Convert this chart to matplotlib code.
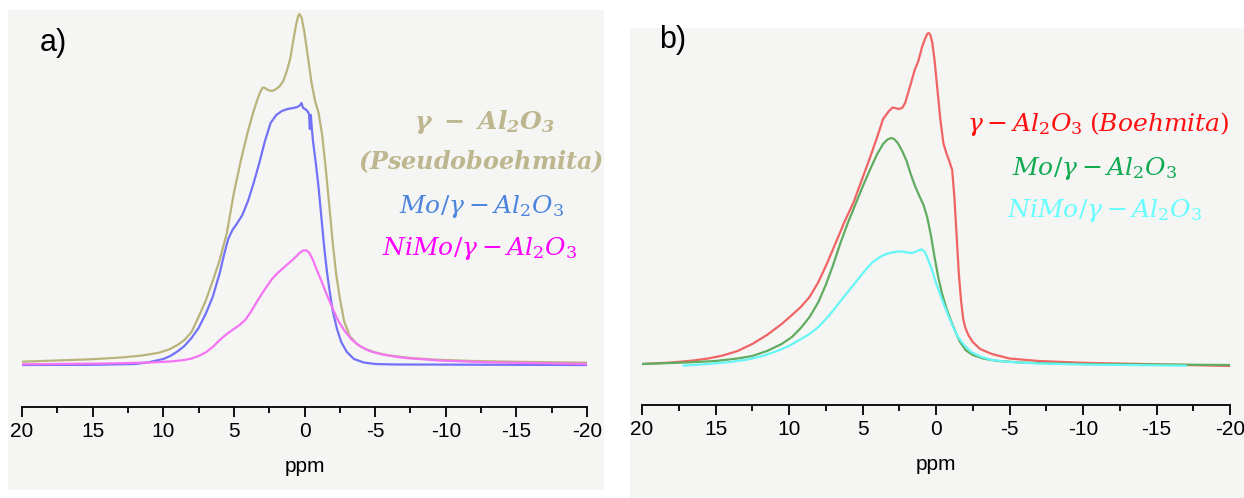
import matplotlib
matplotlib.use("Agg")
import matplotlib.pyplot as plt
from matplotlib.patches import Rectangle
from matplotlib.ticker import MultipleLocator

plt.rcParams["font.family"] = ["Liberation Sans", "DejaVu Sans"]
plt.rcParams["mathtext.fontset"] = "dejavuserif"

# ---- Panel a: 27Al NMR, pseudoboehmite-derived supports ----
a_gamma_ppm = [20, 17, 15, 13, 11.5, 10.3, 9.6, 9.0, 8.5, 8.0, 7.5, 7.0, 6.5, 6.0, 5.5, 5.0,
               4.5, 4.0, 3.6, 3.3, 3.1, 2.95, 2.8, 2.6, 2.3, 2.0, 1.75, 1.5, 1.25, 1.0, 0.8,
               0.6, 0.45, 0.35, 0.2, 0.0, -0.25, -0.5, -0.75, -1.0, -1.25, -1.5, -1.75, -2.0,
               -2.25, -2.5, -2.8, -3.2, -3.7, -4.3, -5, -6, -7.5, -9.5, -12, -15, -20]
a_gamma_int = [1.3, 2.8, 3.8, 5.5, 7.5, 10.3, 13.5, 18, 23, 31, 46, 62, 82, 103, 130, 170,
               203, 232, 252, 265, 272, 275.5, 275, 273, 272, 274, 277, 282, 292, 305, 322,
               338, 347, 349, 345, 330, 305, 280, 262, 250, 228, 195, 158, 120, 88, 65, 42,
               27, 19, 14, 10.5, 7.5, 5, 3.2, 2, 1.2, 0.3]

a_mo_ppm = [20, 15, 12, 11, 10, 9.5, 9.0, 8.5, 8.0, 7.5, 7.0, 6.5, 6.0, 5.7, 5.4, 5.1, 4.8,
            4.4, 4.0, 3.6, 3.2, 2.8, 2.4, 2.0, 1.6, 1.2, 0.8, 0.5, 0.3, 0.22, 0.1, -0.05,
            -0.2, -0.32, -0.38, -0.45, -0.5, -0.6, -0.8, -1.0, -1.2, -1.4, -1.6, -1.8, -2.0,
            -2.3, -2.6, -3.0, -3.5, -4.2, -5.0, -6.5, -20]
a_mo_int = [-2, -1.8, -1, 0.8, 4, 7, 11.5, 17, 25, 35, 49, 66, 90, 108, 124, 133, 139, 148,
            162, 180, 200, 222, 240, 248, 252, 254, 255, 256, 258, 260, 255, 254, 252, 249,
            234, 248, 238, 222, 200, 175, 145, 115, 90, 70, 52, 34, 21, 11, 4, 0.5, -1, -1.5,
            -2]

a_nimo_ppm = [20, 14, 11, 9.5, 8.5, 8.0, 7.5, 7.0, 6.5, 6.0, 5.5, 5.0, 4.6, 4.2, 3.8, 3.3,
              2.8, 2.3, 1.9, 1.5, 1.1, 0.7, 0.35, 0.1, -0.15, -0.35, -0.6, -0.9, -1.2, -1.5,
              -1.8, -2.1, -2.4, -2.8, -3.3, -3.9, -4.6, -5.5, -7, -9.5, -13, -20]
a_nimo_int = [-1.3, -0.5, 0.5, 1.5, 3, 4.5, 7, 10.5, 16, 23, 29, 34, 38, 43, 51, 63, 74, 84,
              90, 95, 100, 105, 110, 112.5, 112.5, 110, 103, 92, 82, 71, 61, 51, 42, 33, 24,
              17, 12, 8.5, 5.2, 2.5, 0.7, -1]

# ---- Panel b: 27Al NMR, boehmite-derived supports ----
b_gamma_ppm = [20, 18, 16.5, 15.5, 14.5, 13.5, 12.5, 11.5, 10.5, 9.8, 9.2, 8.6, 8.0, 7.4,
               6.8, 6.2, 5.6, 5.0, 4.5, 4.0, 3.6, 3.2, 2.95, 2.8, 2.55, 2.3, 2.1, 1.9, 1.7,
               1.45, 1.2, 0.95, 0.75, 0.6, 0.5, 0.38, 0.25, 0.1, -0.1, -0.3, -0.5, -0.7,
               -0.9, -1.1, -1.25, -1.4, -1.55, -1.7, -1.85, -2.0, -2.2, -2.5, -3.0, -3.8, -5,
               -7, -10, -14, -20]
b_gamma_int = [1, 2.5, 4.5, 6.5, 9.5, 14, 21, 30, 41, 50, 58, 68, 83, 102, 123, 144, 163,
               187, 207, 228, 246, 254, 257.5, 257, 256, 257, 262, 272, 282, 295, 304, 318,
               326, 331, 332, 330, 322, 305, 275, 245, 222, 212, 204, 195, 168, 130, 92, 65,
               46, 37, 30, 23, 16, 11, 6.5, 4, 2.2, 1, -1]

b_mo_ppm = [20, 17, 15, 13.5, 12.5, 11.5, 10.5, 9.8, 9.2, 8.6, 8.0, 7.5, 7.0, 6.5, 6.0, 5.5,
            5.0, 4.5, 4.0, 3.6, 3.3, 3.05, 2.85, 2.6, 2.3, 2.0, 1.7, 1.4, 1.1, 0.85, 0.6,
            0.35, 0.1, -0.15, -0.4, -0.7, -1.0, -1.3, -1.6, -2.0, -2.5, -3.2, -4.2, -6, -10,
            -20]
b_mo_int = [1, 2.5, 4, 6.5, 9, 14, 21, 28, 37, 48, 63, 80, 100, 122, 142, 160, 178, 195,
            211, 221, 225.5, 227, 226, 222, 214, 204, 190, 178, 168, 160, 148, 130, 108, 88,
            72, 57, 45, 34, 24, 15, 10, 6.5, 4, 2.3, 1, 0]

b_nimo_ppm = [17.2, 15.5, 14, 12.8, 11.8, 10.8, 10.0, 9.3, 8.6, 8.0, 7.3, 6.6, 6.0, 5.4,
              4.8, 4.3, 3.8, 3.4, 3.0, 2.6, 2.25, 1.95, 1.7, 1.4, 1.15, 0.95, 0.75, 0.5,
              0.25, 0.0, -0.3, -0.6, -0.9, -1.2, -1.5, -1.9, -2.4, -3.0, -3.8, -5, -7, -10,
              -17]
b_nimo_int = [-0.7, 1, 3, 5.5, 9, 14, 19, 25, 31, 38, 49, 62, 73, 84, 95, 103, 108, 111,
              112.5, 113.5, 113.5, 112.5, 112, 113, 115, 115.5, 113, 104, 94, 82, 70, 58, 47,
              37, 28, 20, 13, 8.5, 5, 3, 1.5, 0.5, -0.7]

tick_values = [20, 15, 10, 5, 0, -5, -10, -15, -20]
tick_labels = ["20", "15", "10", "5", "0", "-5", "-10", "-15", "-20"]

W, H = 1244, 498
fig = plt.figure(figsize=(W / 100, H / 100), dpi=100)
fig.patch.set_facecolor("white")

# light panel backgrounds, kept beneath the axes
for (x0, y0, x1, y1) in [(8, 10, 604, 490), (630, 28, 1244, 498)]:
    fig.patches.append(Rectangle((x0 / W, 1 - y1 / H), (x1 - x0) / W, (y1 - y0) / H,
                                 transform=fig.transFigure, facecolor="#f5f5f4",
                                 edgecolor="none", zorder=-5))


def make_axes(px_left, px_right, px_top, px_axis, base_px):
    ax = fig.add_axes([px_left / W, 1 - px_axis / H, (px_right - px_left) / W,
                       (px_axis - px_top) / H])
    ax.set_zorder(2)
    ax.set_xlim(20, -20)
    ax.set_ylim(base_px - px_axis, base_px - px_top)
    ax.patch.set_alpha(0)
    for s in ("top", "right", "left"):
        ax.spines[s].set_visible(False)
    ax.spines["bottom"].set_linewidth(1.3)
    ax.set_yticks([])
    ax.set_xticks(tick_values)
    ax.set_xticklabels(tick_labels)
    ax.xaxis.set_minor_locator(MultipleLocator(2.5))
    ax.tick_params(axis="x", which="major", length=7, width=1.3, labelsize=15, pad=4)
    ax.tick_params(axis="x", which="minor", length=4, width=1.3)
    ax.set_xlabel("ppm", fontsize=15, labelpad=11)
    return ax


lw = 1.6
fs = 18
line_kw = dict(lw=lw, solid_joinstyle="round", solid_capstyle="round")

# panel a
ax1 = make_axes(22, 587, 10, 407, 363)
ax1.plot(a_gamma_ppm, a_gamma_int, color="#b9b47c", **line_kw)
ax1.plot(a_mo_ppm, a_mo_int, color="#7272f8", **line_kw)
ax1.plot(a_nimo_ppm, a_nimo_int, color="#f474f4", **line_kw)

fig.text(40 / W, 1 - 43 / H, "a)", fontsize=22, ha="left", va="center")
fig.text(485 / W, 1 - 122 / H,
         r"$\mathbfit{\gamma}\;\;\mathbf{-}\;\;\mathbfit{Al_2O_3}$",
         color="#bdb68e", fontsize=fs, ha="center", va="center")
fig.text(481 / W, 1 - 162 / H, r"$\mathbfit{(Pseudoboehmita)}$", color="#bdb68e",
         fontsize=17.2, ha="center", va="center")
fig.text(482 / W, 1 - 206 / H, r"$Mo/\gamma - Al_2O_3$", color="#4c86dc",
         fontsize=fs, ha="center", va="center")
fig.text(480 / W, 1 - 248 / H, r"$NiMo/\gamma - Al_2O_3$", color="#ff00ff",
         fontsize=fs, ha="center", va="center")

# panel b
ax2 = make_axes(642, 1230, 28, 405, 365)
ax2.plot(b_gamma_ppm, b_gamma_int, color="#f06464", **line_kw)
ax2.plot(b_mo_ppm, b_mo_int, color="#60ac60", **line_kw)
ax2.plot(b_nimo_ppm, b_nimo_int, color="#66f6f6", **line_kw)

fig.text(659 / W, 1 - 40 / H, "b)", fontsize=22, ha="left", va="center")
fig.text(1098 / W, 1 - 124 / H, r"$\gamma - Al_2O_3\;(Boehmita)$", color="#ff1010",
         fontsize=fs, ha="center", va="center")
fig.text(1095 / W, 1 - 168 / H, r"$Mo/\gamma - Al_2O_3$", color="#10aa50",
         fontsize=fs, ha="center", va="center")
fig.text(1105 / W, 1 - 210 / H, r"$NiMo/\gamma - Al_2O_3$", color="#66ffff",
         fontsize=fs, ha="center", va="center")

fig.savefig("out.png", dpi=100)
